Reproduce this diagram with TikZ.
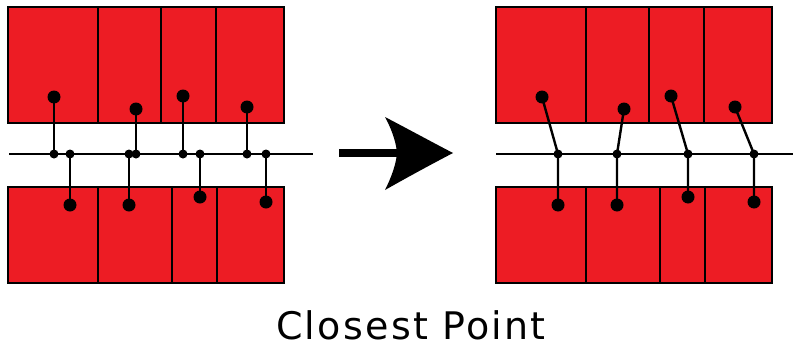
\documentclass[tikz,border=0pt]{standalone}
\usepackage{fontspec}
\setmainfont{DejaVu Sans}
\newfontfamily\labelfont[LetterSpace=6]{DejaVu Sans}
\definecolor{blockred}{HTML}{ED1C24}
\begin{document}
\begin{tikzpicture}[x=1pt,y=-1pt,
  block/.style={draw=black,fill=blockred,line width=2.2pt,rectangle,inner sep=0pt},
  bigdot/.style={circle,fill=black,inner sep=0pt,minimum size=13pt},
  smalldot/.style={circle,fill=black,inner sep=0pt,minimum size=9pt},
  conn/.style={line width=2.4pt,black},
  axis/.style={line width=2.4pt,black}]
\useasboundingbox (0,0) rectangle (794,348);
% blocks
\foreach \off/\p in {0/L,488/R}{
  \foreach \a/\b [count=\i] in {8/98,98/161,161/216,216/284}{
    \node[block,minimum width={\b-\a},minimum height=116pt] (\p t\i) at ({\off+(\a+\b)/2},65) {};
  }
  \foreach \a/\b [count=\i] in {8/98,98/172,172/217,217/284}{
    \node[block,minimum width={\b-\a},minimum height=96pt] (\p b\i) at ({\off+(\a+\b)/2},235) {};
  }
}
% axis lines
\coordinate (La) at (9,154);
\coordinate (Lb) at (313,154);
\coordinate (Ra) at (496,154);
\coordinate (Rb) at (793,154);
\draw[axis] (La) -- (Lb);
\draw[axis] (Ra) -- (Rb);
% left panel points
\foreach \x/\y [count=\i] in {54/97,136/109,183/96,247/107}{
  \node[bigdot] (LT\i) at (\x,\y) {};
  \node[smalldot] (LTp\i) at (\x,154) {};
}
\foreach \x/\y [count=\i] in {70/205,129/205,200/197,266/202}{
  \node[bigdot] (LB\i) at (\x,\y) {};
  \node[smalldot] (LBp\i) at (\x,154) {};
}
\foreach \i in {1,...,4}{
  \draw[conn] (LT\i.center) -- (LTp\i.center);
  \draw[conn] (LB\i.center) -- (LBp\i.center);
}
% right panel points
\foreach \tx/\ty/\bx/\by [count=\i] in {542/97/558/205,624/109/617/205,671/96/688/197,735/107/754/202}{
  \node[bigdot] (RT\i) at (\tx,\ty) {};
  \node[smalldot] (RP\i) at (\bx,154) {};
  \node[bigdot] (RB\i) at (\bx,\by) {};
  \draw[conn] (RT\i.center) -- (RP\i.center) -- (RB\i.center);
}
% arrow
\coordinate (arT) at (453,153);
\fill[black] (339,149) rectangle (398,157);
\fill[black] (arT) .. controls (430,141) and (408,129) .. (385,117)
  .. controls (391,128) and (396,141) .. (397,153)
  .. controls (396,165) and (391,178) .. (385,190)
  .. controls (408,177) and (430,165) .. (arT) -- cycle;
% label
\node[anchor=base,font=\labelfont\fontsize{38}{42}\selectfont,inner sep=0pt] (lbl) at (411,339) {Closest Point};
\end{tikzpicture}
\end{document}
